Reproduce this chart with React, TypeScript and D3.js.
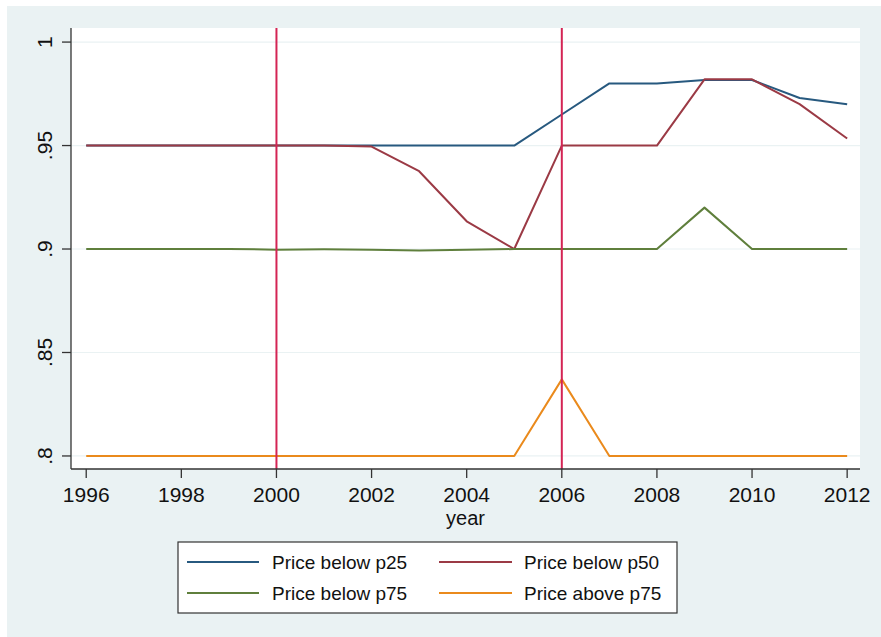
import React from "react";
import * as d3 from "d3";

const years = [1996, 1997, 1998, 1999, 2000, 2001, 2002, 2003, 2004, 2005, 2006, 2007, 2008, 2009, 2010, 2011, 2012];
const p25 = [0.95, 0.95, 0.95, 0.95, 0.95, 0.95, 0.95, 0.95, 0.95, 0.95, 0.965, 0.98, 0.98, 0.9817, 0.9817, 0.973, 0.97];
const p50 = [0.95, 0.95, 0.95, 0.95, 0.95, 0.95, 0.9495, 0.9376, 0.9134, 0.9, 0.95, 0.95, 0.95, 0.982, 0.982, 0.97, 0.9534];
const p75 = [0.9, 0.9, 0.9, 0.9, 0.8997, 0.8999, 0.8997, 0.8993, 0.8996, 0.9, 0.9, 0.9, 0.9, 0.92, 0.9, 0.9, 0.9];
const above75 = [0.8, 0.8, 0.8, 0.8, 0.8, 0.8, 0.8, 0.8, 0.8, 0.8, 0.837, 0.8, 0.8, 0.8, 0.8, 0.8, 0.8];
const xTicks = [1996, 1998, 2000, 2002, 2004, 2006, 2008, 2010, 2012];
const yTicks = [0.8, 0.85, 0.9, 0.95, 1];
const yTickLabels = [".8", ".85", ".9", ".95", "1"];
const vLines = [2000, 2006];
const seriesNames = ["Price below p25", "Price below p50", "Price below p75", "Price above p75"];
const seriesColors = ["#27597f", "#9b3a45", "#5f7f3c", "#ea8a1c"];

const W = 881;
const H = 637;
const L = 71, R = 860, T = 28, B = 469;
const FONT = "'Liberation Sans', Arial, sans-serif";

export default function App() {
  const x = d3.scaleLinear().domain([1995.68, 2012.27]).range([L, R]);
  const y = d3.scaleLinear().domain([0.7937, 1.0068]).range([B, T]);
  const line = d3
    .line<[number, number]>()
    .x((d) => x(d[0]))
    .y((d) => y(d[1]));
  const all = [p25, p50, p75, above75];

  const legendX = 178, legendY = 542, legendW = 499, legendH = 71;
  const rowY = [562, 593];
  const colLine = [[187, 259], [439, 512]];
  const colText = [272, 524];

  return (
    <svg width={W} height={H} style={{ position: "absolute", left: 0, top: 0 }} fontFamily={FONT}>
      <rect x={0} y={0} width={W} height={H} fill="#ffffff" />
      <rect x={7} y={6} width={W - 7} height={H - 6} fill="#eaf2f3" />
      <rect x={L} y={T} width={R - L} height={B - T} fill="#ffffff" />
      {yTicks.map((t) => (
        <line key={"g" + t} x1={L} x2={R} y1={y(t)} y2={y(t)} stroke="#eaf2f3" strokeWidth={1.2} />
      ))}
      {all.map((s, i) => (
        <path
          key={i}
          d={line(years.map((yr, j) => [yr, s[j]] as [number, number])) || ""}
          fill="none"
          stroke={seriesColors[i]}
          strokeWidth={2}
          strokeLinejoin="round"
        />
      ))}
      {vLines.map((v) => (
        <line key={"v" + v} x1={x(v)} x2={x(v)} y1={T} y2={B} stroke="#d42454" strokeWidth={2} />
      ))}
      <line x1={L} x2={L} y1={T} y2={B} stroke="#333" strokeWidth={1.3} />
      <line x1={L} x2={R} y1={B} y2={B} stroke="#333" strokeWidth={1.3} />
      {yTicks.map((t, i) => (
        <g key={"yt" + t}>
          <line x1={L - 9} x2={L} y1={y(t)} y2={y(t)} stroke="#333" strokeWidth={1.3} />
          <text
            transform={`translate(52,${y(t)}) rotate(-90)`}
            textAnchor="middle"
            fontSize={21}
            fill="#111"
          >
            {yTickLabels[i]}
          </text>
        </g>
      ))}
      {xTicks.map((t) => (
        <g key={"xt" + t}>
          <line x1={x(t)} x2={x(t)} y1={B} y2={B + 9} stroke="#333" strokeWidth={1.3} />
          <text x={x(t)} y={502} textAnchor="middle" fontSize={21} fill="#111">
            {t}
          </text>
        </g>
      ))}
      <text x={(L + R) / 2} y={525} textAnchor="middle" fontSize={20} fill="#111">
        year
      </text>
      <rect x={legendX} y={legendY} width={legendW} height={legendH} fill="#ffffff" stroke="#333" strokeWidth={1.2} />
      {seriesNames.map((n, i) => {
        const r = Math.floor(i / 2);
        const c = i % 2;
        return (
          <g key={n}>
            <line x1={colLine[c][0]} x2={colLine[c][1]} y1={rowY[r]} y2={rowY[r]} stroke={seriesColors[i]} strokeWidth={2} />
            <text x={colText[c]} y={rowY[r] + 7} fontSize={19} fill="#111">
              {n}
            </text>
          </g>
        );
      })}
    </svg>
  );
}
